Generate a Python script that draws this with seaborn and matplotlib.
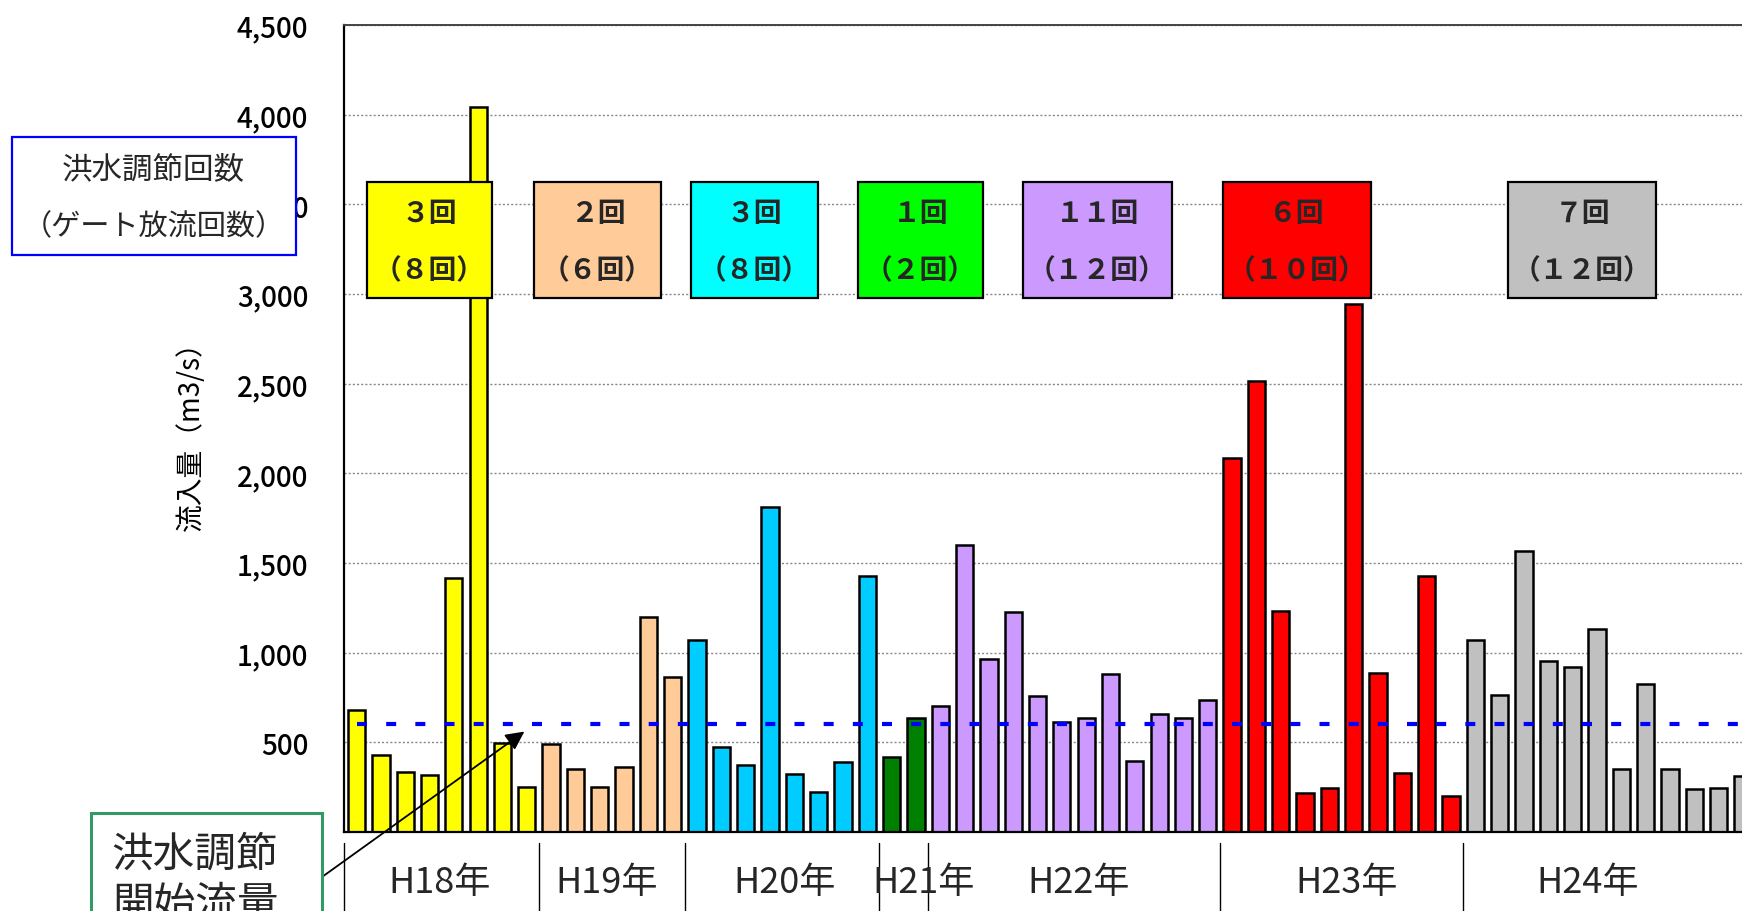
import numpy as np
import pandas as pd
import matplotlib
matplotlib.use('Agg')
import matplotlib.pyplot as plt
from matplotlib.patches import Rectangle
from matplotlib.lines import Line2D
import seaborn as sns

# inflow per flood event (m3/s), grouped by fiscal year
years = ['H18年', 'H19年', 'H20年', 'H21年', 'H22年', 'H23年', 'H24年']
h18 = [682, 432, 336, 317, 1417, 4042, 497, 249]
h19 = [491, 352, 249, 361, 1200, 867]
h20 = [1068, 473, 374, 1812, 324, 221, 389, 1427]
h21 = [417, 634]
h22 = [701, 1603, 965, 1226, 761, 612, 638, 882, 398, 660, 634, 738]
h23 = [2085, 2515, 1234, 220, 248, 2946, 886, 331, 1429, 202]
h24 = [1072, 766, 1565, 951, 921, 1131, 354, 828, 354, 242, 246, 313]
bar_colors = ['#FFFF00', '#FFCC99', '#00CCFF', '#008000', '#CC99FF', '#FF0000', '#C0C0C0']

# flood control counts (gate discharge counts)
control_counts = ['３回', '２回', '３回', '１回', '１１回', '６回', '７回']
gate_counts = ['（８回）', '（６回）', '（８回）', '（２回）', '（１２回）', '（１０回）', '（１２回）']
box_colors = ['#FFFF00', '#FFCC99', '#00FFFF', '#00FF00', '#CC99FF', '#FF0000', '#C0C0C0']

threshold = 600
yticks = [500, 1000, 1500, 2000, 2500, 3000, 3500, 4000, 4500]

groups = [h18, h19, h20, h21, h22, h23, h24]
df = pd.DataFrame({
    'flow': [v for g in groups for v in g],
    'year': [y for y, g in zip(years, groups) for _ in g],
})
df['pos'] = np.arange(len(df))

sns.set_theme(style='white')
plt.rcParams['font.family'] = ['Noto Sans CJK JP', 'DejaVu Sans']

W, H = 1742, 912
fig = plt.figure(figsize=(W / 100, H / 100), dpi=100)
ax = fig.add_axes([344.4 / W, (H - 833) / H, (1755 - 344.4) / W, (833 - 26) / H])

sns.barplot(data=df, x='pos', y='flow', hue='year', palette=dict(zip(years, bar_colors)),
            dodge=False, width=0.71, saturation=1, edgecolor='black', linewidth=1.8,
            legend=False, ax=ax)

ax.set_xlim(-0.5, len(df) - 0.5)
ax.set_ylim(0, 4500)
ax.set_yticks(yticks)
ax.set_yticklabels([f'{t:,}' for t in yticks], fontsize=20, color='black', fontweight='medium')
ax.tick_params(axis='y', length=0, pad=26)
ax.set_xticks([])
ax.set_xlabel('')
ax.set_ylabel('流入量（m3/s）', fontsize=20, labelpad=22, color='black')
ax.yaxis.grid(True, linestyle=(0, (1.5, 1.5)), color='#888888', lw=1)
ax.set_axisbelow(True)
for side in ['left', 'bottom']:
    ax.spines[side].set_color('black')
    ax.spines[side].set_linewidth(1.6)
ax.spines['top'].set_color('#444444')
ax.spines['top'].set_linewidth(1.4)

# flood control start flow
ax.plot([0, len(df) - 0.5], [threshold, threshold], color='#0000FF', lw=3.0,
        dashes=(2.4, 4.6), zorder=3)

# count boxes
box_x = [(0.43, 5.57), (7.29, 12.51), (13.75, 18.96), (20.60, 25.75),
         (27.39, 33.52), (35.61, 41.73), (47.36, 53.44)]
for (x0, x1), c, t1, t2 in zip(box_x, box_colors, control_counts, gate_counts):
    ax.add_patch(Rectangle((x0, 2975), x1 - x0, 650, facecolor=c, edgecolor='black',
                           lw=1.6, zorder=4))
    xc = (x0 + x1) / 2
    ax.text(xc, 3450, t1, ha='center', va='center', fontsize=20, fontweight='bold', zorder=5)
    ax.text(xc, 3130, t2, ha='center', va='center', fontsize=20, fontweight='bold', zorder=5)

# year separators and labels under the axis
bounds = np.concatenate([[0], np.cumsum([len(g) for g in groups])]) - 0.5
trans = ax.get_xaxis_transform()
for b in bounds[:-1]:
    ax.add_line(Line2D([b, b], [-0.014, -0.12], transform=trans, color='black',
                       lw=1, clip_on=False))
label_x = [3.4, 10.3, 17.6, 23.3, 29.7, 40.7, 50.6]
for lx, y in zip(label_x, years):
    ax.text(lx, -0.062, y, transform=trans, ha='center', va='center', fontsize=26,
            clip_on=False)

# legend box on the left
fig.add_artist(Rectangle((11.7 / W, 1 - 256 / H), 284 / W, 118 / H,
                         transform=fig.transFigure, facecolor='white',
                         edgecolor='#0000FF', lw=1.6, zorder=5))
fig.text(153.7 / W, 1 - 170 / H, '洪水調節回数', ha='center', va='center', fontsize=22, zorder=6)
fig.text(153.7 / W, 1 - 227 / H, '（ゲート放流回数）', ha='center', va='center', fontsize=21, zorder=6)

# flood control start flow label
fig.add_artist(Rectangle((90.6 / W, -0.05), (322 - 90.6) / W, 1 - 814 / H + 0.05,
                         transform=fig.transFigure, facecolor='white',
                         edgecolor='#339966', lw=2.2, zorder=5))
fig.text(195 / W, 1 - 855 / H, '洪水調節', ha='center', va='center', fontsize=30, zorder=6)
fig.text(195 / W, 1 - 905 / H, '開始流量', ha='center', va='center', fontsize=30, zorder=6)
ax.annotate('', xy=(6.9, 560), xycoords='data', xytext=(322, H - 878),
            textcoords='figure pixels', annotation_clip=False,
            arrowprops=dict(arrowstyle='-|>', color='black', lw=1.3,
                            mutation_scale=28, shrinkA=0, shrinkB=0), zorder=6)

fig.savefig('out.png', dpi=100)
